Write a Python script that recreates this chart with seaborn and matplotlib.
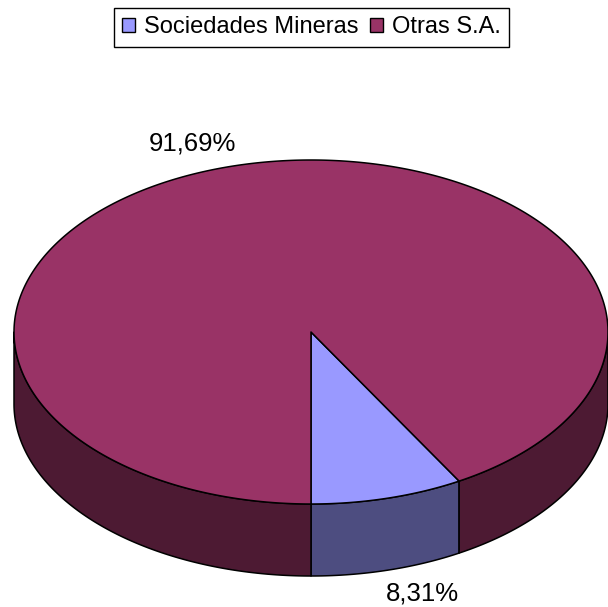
import numpy as np
import matplotlib
matplotlib.use("Agg")
import matplotlib.pyplot as plt
from matplotlib.patches import Polygon, Patch
import seaborn as sns

categories = ["Sociedades Mineras", "Otras S.A."]
values = [8.31, 91.69]
labels = ["8,31%", "91,69%"]
top_colors = ["#9999FF", "#993366"]
side_colors = ["#4D4D80", "#4D1A33"]

sns.set_style("white")
plt.rcParams["font.family"] = ["Liberation Sans", "DejaVu Sans"]
plt.rcParams["text.color"] = "black"

fig = plt.figure(figsize=(6.08, 6.07), dpi=100)
ax = fig.add_axes([0, 0, 1, 1])
ax.set_xlim(0, 608)
ax.set_ylim(607, 0)
ax.axis("off")

# layout of the 3D pie (pixels)
cx, cy, a, b, depth = 311, 332, 297, 172, 72


def pt(t, dy=0.0):
    return cx + a * np.sin(t), cy + b * np.cos(t) + dy


fracs = np.array(values) / np.sum(values)
bounds = np.concatenate([[0], np.cumsum(fracs)]) * 2 * np.pi

# side walls (front half only)
for i in range(len(values)):
    t0, t1 = bounds[i], bounds[i + 1]
    for lo, hi in [(0, np.pi / 2), (1.5 * np.pi, 2 * np.pi)]:
        s, e = max(t0, lo), min(t1, hi)
        if e > s:
            ts = np.linspace(s, e, 300)
            x, y = pt(ts)
            xs = np.concatenate([x, x[::-1]])
            ys = np.concatenate([y, (y + depth)[::-1]])
            ax.add_patch(Polygon(np.column_stack([xs, ys]), closed=True,
                                 fc=side_colors[i], ec="black", lw=1.1,
                                 joinstyle="round"))

# top faces
for i in range(len(values)):
    t0, t1 = bounds[i], bounds[i + 1]
    ts = np.linspace(t0, t1, 600)
    x, y = pt(ts)
    xs = np.concatenate([[cx], x])
    ys = np.concatenate([[cy], y])
    ax.add_patch(Polygon(np.column_stack([xs, ys]), closed=True,
                         fc=top_colors[i], ec="black", lw=1.1,
                         joinstyle="round"))

# data labels
label_pos = [(422, 601), (192.5, 150)]
for lab, (lx, ly) in zip(labels, label_pos):
    ax.text(lx, ly, lab, ha="center", va="baseline", fontsize=18.5,
            color="black")

handles = [Patch(facecolor=c, edgecolor="black", linewidth=1) for c in top_colors]
leg = fig.legend(handles, categories, loc="upper center",
                 bbox_to_anchor=(311.5 / 608, 1 - 8 / 607), ncol=2,
                 frameon=True, fancybox=False, edgecolor="black",
                 framealpha=1, fontsize=17, handlelength=0.55,
                 handleheight=0.55, handletextpad=0.38, columnspacing=0.5,
                 borderpad=0.35, borderaxespad=0, labelcolor="black")
leg.get_frame().set_linewidth(1)

fig.savefig("out.png", dpi=100)
